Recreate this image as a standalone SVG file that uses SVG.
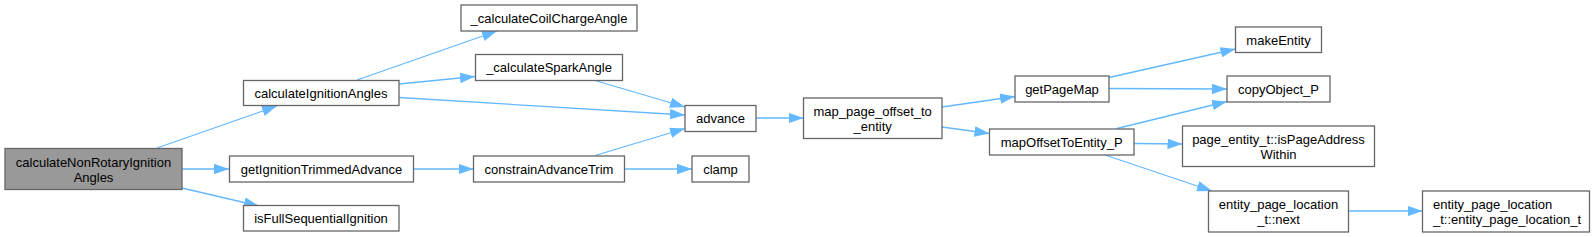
<svg xmlns="http://www.w3.org/2000/svg" width="1595" height="237" viewBox="0 0 1595 237">
<style>
.n rect{fill:#ffffff;stroke:#666666;stroke-width:1.3}
.n.root rect{fill:#999999}
.n text{font-family:"Liberation Sans",Arial,sans-serif;font-size:13px;fill:#000000;text-anchor:middle}
.n text.l{text-anchor:start}
.e path{fill:none;stroke:#63b8ff;stroke-width:1.3;marker-end:url(#ah)}
</style>
<defs>
<marker id="ah" viewBox="0 0 15 10.5" markerUnits="userSpaceOnUse" markerWidth="15" markerHeight="10.5" refX="15" refY="5.25" orient="auto">
<path d="M0,0 L15,5.25 L0,10.5 z" fill="#63b8ff"/>
</marker>
</defs>
<rect width="1595" height="237" fill="#ffffff"/>
<g id="edges" class="e">
<path d="M157,148 L277,106"/>
<path d="M182,169 L229,169"/>
<path d="M182,188 L259,206"/>
<path d="M357,80 L497,31"/>
<path d="M399,84 L475,76.5"/>
<path d="M399,97.5 L685,115"/>
<path d="M595,80.5 L685,107"/>
<path d="M595,155.5 L685,128.5"/>
<path d="M413.5,169 L473.5,169"/>
<path d="M624.5,169 L692,169"/>
<path d="M756,118 L803.5,118"/>
<path d="M942,107 L1015,96.5"/>
<path d="M942,127 L989.5,133.5"/>
<path d="M1109,77.5 L1235.5,49"/>
<path d="M1109,88.5 L1227,89"/>
<path d="M1117,128.5 L1227,101.5"/>
<path d="M1134,143.5 L1182.5,144"/>
<path d="M1105,155 L1212,191"/>
<path d="M1348.5,211 L1422.5,211"/>
</g>
<g id="n0" class="n root"><rect x="5" y="148.5" width="177" height="41"/><text x="93.5" y="167">calculateNonRotaryIgnition</text><text x="93.5" y="182">Angles</text></g>
<g id="n1" class="n"><rect x="243.5" y="80.5" width="155.5" height="25"/><text x="321" y="97.5">calculateIgnitionAngles</text></g>
<g id="n2" class="n"><rect x="461" y="5" width="176" height="26"/><text x="549" y="22.5">_calculateCoilChargeAngle</text></g>
<g id="n3" class="n"><rect x="475.5" y="54.5" width="147" height="26"/><text x="549" y="72">_calculateSparkAngle</text></g>
<g id="n4" class="n"><rect x="685" y="105.5" width="71" height="26"/><text x="720.5" y="123">advance</text></g>
<g id="n5" class="n"><rect x="229.5" y="156" width="184" height="26"/><text x="321.5" y="173.5">getIgnitionTrimmedAdvance</text></g>
<g id="n6" class="n"><rect x="473.5" y="156" width="151" height="26"/><text x="549" y="173.5">constrainAdvanceTrim</text></g>
<g id="n7" class="n"><rect x="692" y="156" width="57" height="26"/><text x="720.5" y="173.5">clamp</text></g>
<g id="n8" class="n"><rect x="243.5" y="205.5" width="155.5" height="25.5"/><text x="321" y="223">isFullSequentialIgnition</text></g>
<g id="n9" class="n"><rect x="803.5" y="98" width="138.5" height="40.5"/><text x="872.7" y="115.5">map_page_offset_to</text><text x="872.7" y="130.5">_entity</text></g>
<g id="n10" class="n"><rect x="1015" y="76" width="94" height="26"/><text x="1062" y="93.5">getPageMap</text></g>
<g id="n11" class="n"><rect x="989.5" y="129" width="144.5" height="26"/><text x="1061.7" y="146.5">mapOffsetToEntity_P</text></g>
<g id="n12" class="n"><rect x="1235.5" y="27" width="86" height="25.5"/><text x="1278.5" y="44.5">makeEntity</text></g>
<g id="n13" class="n"><rect x="1227" y="76" width="103" height="26"/><text x="1278.5" y="93.5">copyObject_P</text></g>
<g id="n14" class="n"><rect x="1182.5" y="126" width="192" height="40.5"/><text x="1278.5" y="144">page_entity_t::isPageAddress</text><text x="1278.5" y="159">Within</text></g>
<g id="n15" class="n"><rect x="1208.5" y="191" width="140" height="41"/><text x="1278.5" y="209">entity_page_location</text><text x="1278.5" y="224">_t::next</text></g>
<g id="n16" class="n"><rect x="1422.5" y="191" width="167" height="41"/><text class="l" x="1433" y="209">entity_page_location</text><text class="l" x="1433" y="224">_t::entity_page_location_t</text></g>
</svg>
